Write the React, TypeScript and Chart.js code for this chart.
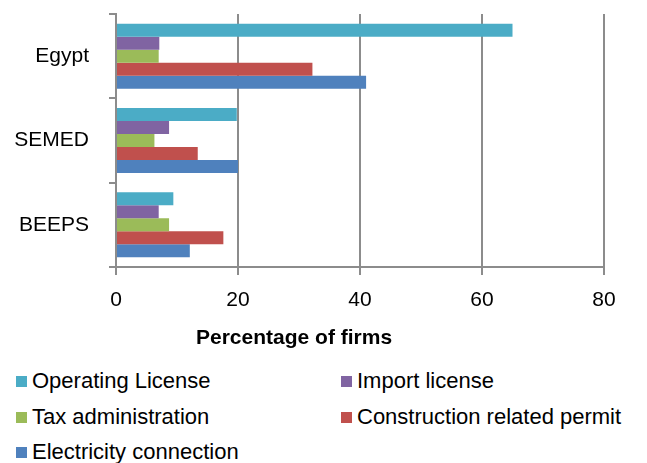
import React, { useEffect, useRef } from "react";
import { Chart, registerables } from "chart.js";

Chart.register(...registerables);

const categories = ["Egypt", "SEMED", "BEEPS"];
const seriesNames = [
  "Operating License",
  "Import license",
  "Tax administration",
  "Construction related permit",
  "Electricity connection",
];
const operatingLicense = [65, 19.8, 9.4];
const importLicense = [7.1, 8.7, 7.0];
const taxAdministration = [7.0, 6.3, 8.7];
const constructionPermit = [32.2, 13.4, 17.6];
const electricityConnection = [41.0, 20.0, 12.1];
const xTicks = [0, 20, 40, 60, 80];
const xTitle = "Percentage of firms";

const colors = ["#4BACC6", "#8064A2", "#9BBB59", "#C0504D", "#4F81BD"];
const FONT = "'Liberation Sans', Arial, sans-serif";
const GRAY = "#8c8c8c";

export default function App() {
  const ref = useRef<HTMLCanvasElement | null>(null);

  useEffect(() => {
    if (!ref.current) return;
    const values = [
      operatingLicense,
      importLicense,
      taxAdministration,
      constructionPermit,
      electricityConnection,
    ];
    const chart = new Chart(ref.current, {
      type: "bar",
      data: {
        labels: categories,
        datasets: seriesNames.map((name, i) => ({
          label: name,
          data: values[i],
          backgroundColor: colors[i],
          borderWidth: 0,
          barPercentage: 1,
          categoryPercentage: 0.77,
        })),
      },
      options: {
        indexAxis: "y",
        animation: false,
        responsive: false,
        maintainAspectRatio: false,
        layout: { padding: { top: 14, right: 43, left: 0, bottom: 0 } },
        plugins: {
          legend: { display: false },
          tooltip: { enabled: false },
        },
        scales: {
          x: {
            min: 0,
            max: 80,
            afterBuildTicks: (scale: any) => {
              scale.ticks = xTicks.map((v) => ({ value: v }));
            },
            afterFit: (scale: any) => {
              scale.height = 83;
              scale.paddingLeft = 0;
              scale.paddingRight = 0;
            },
            ticks: {
              color: "#000",
              font: { family: FONT, size: 21 },
              padding: 13,
            },
            grid: {
              color: GRAY,
              lineWidth: 2,
              tickLength: 8,
            },
            border: { display: true, color: GRAY, width: 2 },
            title: { display: false },
          },
          y: {
            type: "category",
            afterFit: (scale: any) => {
              scale.width = 116;
              scale.paddingTop = 0;
              scale.paddingBottom = 0;
            },
            ticks: {
              color: "#000",
              font: { family: FONT, size: 21 },
              padding: 20,
            },
            grid: {
              offset: true,
              drawOnChartArea: false,
              color: GRAY,
              lineWidth: 2,
              tickLength: 7,
            },
            border: { display: true, color: GRAY, width: 2 },
          },
        },
      },
    });
    return () => chart.destroy();
  }, []);

  const legendPos = [
    { left: 16, top: 381 },
    { left: 341, top: 381 },
    { left: 16, top: 417 },
    { left: 341, top: 417 },
    { left: 16, top: 452 },
  ];

  return (
    <div
      style={{
        position: "fixed",
        left: 0,
        top: 0,
        width: 647,
        height: 463,
        background: "#fff",
        overflow: "hidden",
      }}
    >
      <canvas ref={ref} width={647} height={350} style={{ display: "block" }} />
      <div
        style={{
          position: "absolute",
          left: 196,
          top: 323,
          height: 28,
          lineHeight: "28px",
          fontFamily: FONT,
          fontSize: 21,
          fontWeight: "bold",
          color: "#000",
          whiteSpace: "nowrap",
        }}
      >
        {xTitle}
      </div>
      {seriesNames.map((name, i) => (
        <div
          key={name}
          style={{
            position: "absolute",
            left: legendPos[i].left,
            top: legendPos[i].top - 14,
            height: 28,
            display: "flex",
            alignItems: "center",
            fontFamily: FONT,
            fontSize: 22,
            color: "#000",
            whiteSpace: "nowrap",
          }}
        >
          <span
            style={{
              display: "inline-block",
              width: 11,
              height: 11,
              background: colors[i],
              marginRight: 5,
            }}
          />
          <span>{name}</span>
        </div>
      ))}
    </div>
  );
}
